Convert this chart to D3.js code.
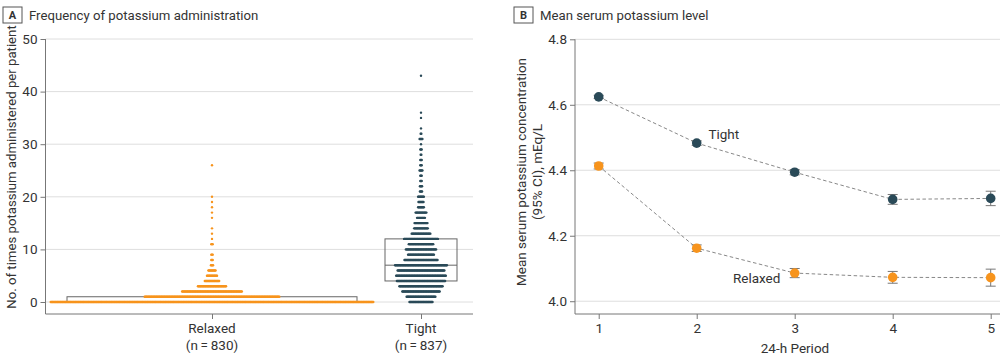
<!DOCTYPE html>
<html><head><meta charset="utf-8">
<script src="https://cdn.jsdelivr.net/npm/d3@7"></script>
<style>
body{margin:0;background:#fff;}
text{font-family:Roboto,"Noto Sans",sans-serif;fill:#333;}
</style></head>
<body><svg id="c" width="1000" height="356"></svg>
<script>
// ---------- Panel A data ----------
const groups = ["Relaxed", "Tight"];
const groupN = [830, 837];
const relaxedValues = [0,1,2,3,4,5,6,7,8,9,11,12,13,14,16,17,18,19,20,26];
const relaxedCounts = [449,188,84,40,21,15,11,4,3,3,3,1,1,1,1,1,1,1,1,1];
const tightValues = [0,1,2,3,4,5,6,7,8,9,10,11,12,13,14,15,16,17,18,19,20,21,22,23,24,25,26,27,28,29,30,31,32,33,35,36,43];
const tightCounts = [33,41,53,61,68,70,66,73,47,37,43,35,48,27,20,19,12,16,9,8,9,4,4,3,3,5,3,3,2,3,1,5,2,1,1,1,1];
const relaxedBox = [0, 0, 1];   // Q1, median, Q3
const tightBox = [4, 7, 12];
const yTicksA = [0,10,20,30,40,50];

// ---------- Panel B data ----------
const periods = [1,2,3,4,5];
const tightMean = [4.624,4.483,4.394,4.311,4.314];
const tightCI = [0.005,0.007,0.008,0.015,0.022];
const relaxedMean = [4.413,4.162,4.086,4.073,4.072];
const relaxedCI = [0.009,0.010,0.014,0.018,0.026];
const yTicksB = [4.0,4.2,4.4,4.6,4.8];

const ORANGE = "#f7941d", DARK = "#2a4a58", GRID = "#dedede", AX = "#777";
const svg = d3.select("#c");

// ---------- Panel header helper ----------
function header(x, letter, title){
  svg.append("rect").attr("x",x).attr("y",7).attr("width",19).attr("height",16)
    .attr("fill","#fff").attr("stroke","#555").attr("stroke-width",1);
  svg.append("text").attr("x",x+9.5).attr("y",15).attr("text-anchor","middle")
    .attr("dominant-baseline","central").style("font-size","11px").style("font-weight","700").text(letter);
  svg.append("text").attr("x",x+26).attr("y",15).attr("dominant-baseline","central")
    .style("font-size","13.2px").text(title);
}
header(3, "A", "Frequency of potassium administration");
header(514, "B", "Mean serum potassium level");

// ---------- Panel A ----------
const yA = d3.scaleLinear().domain([-2.28, 50]).range([314, 39]);
const xA = d3.scalePoint().domain(groups).range([212, 421]);
const leftA = 45.5, rightA = 473;

const gA = svg.append("g");
gA.selectAll("line.grid").data(yTicksA).join("line")
  .attr("x1",leftA).attr("x2",rightA).attr("y1",d=>yA(d)).attr("y2",d=>yA(d))
  .attr("stroke",GRID).attr("stroke-width",1);

const axA = gA.append("g").attr("transform",`translate(${leftA},0)`)
  .call(d3.axisLeft(yA).tickValues(yTicksA).tickSize(5).tickPadding(3));
axA.select(".domain").attr("stroke",AX).attr("d",`M-0,39V314`);
axA.selectAll(".tick line").attr("stroke",AX);
axA.selectAll(".tick text").style("font-size","13.5px").attr("fill","#333");

const axAx = gA.append("g").attr("transform",`translate(0,314)`)
  .call(d3.axisBottom(xA).tickSize(5).tickFormat(""));
axAx.select(".domain").attr("stroke",AX).attr("d",`M${leftA},0H${rightA}`);
axAx.selectAll(".tick line").attr("stroke",AX);
groups.forEach((g,i)=>{
  const t = gA.append("text").attr("x",xA(g)).attr("y",333).attr("text-anchor","middle").style("font-size","13.5px");
  t.append("tspan").attr("x",xA(g)).attr("dy",0).text(g);
  t.append("tspan").attr("x",xA(g)).attr("dy",17).text(`(n\u2009=\u2009${groupN[i]})`);
});
gA.append("text").attr("transform",`translate(16,167) rotate(-90)`)
  .attr("text-anchor","middle").style("font-size","13.2px")
  .text("No. of times potassium administered per patient");

// boxes
const boxHalf = {Relaxed:145, Tight:36};
[[groups[0],relaxedBox],[groups[1],tightBox]].forEach(([g,b])=>{
  const cx = xA(g), hw = boxHalf[g];
  gA.append("rect").attr("x",cx-hw).attr("width",2*hw)
    .attr("y",yA(b[2])).attr("height",yA(b[0])-yA(b[2]))
    .attr("fill","none").attr("stroke","#666").attr("stroke-width",1);
  gA.append("line").attr("x1",cx-hw).attr("x2",cx+hw).attr("y1",yA(b[1])).attr("y2",yA(b[1]))
    .attr("stroke","#666").attr("stroke-width",1);
});

// beeswarm rows
const spacing = 0.72;
function swarm(g, values, counts, color){
  const pts = [];
  values.forEach((v,i)=>{
    const c = counts[i];
    for(let k=0;k<c;k++) pts.push({v, off:(k-(c-1)/2)*spacing});
  });
  gA.append("g").selectAll("circle").data(pts).join("circle")
    .attr("cx",d=>xA(g)+d.off).attr("cy",d=>yA(d.v)).attr("r",1.2).attr("fill",color);
}
swarm("Relaxed", relaxedValues, relaxedCounts, ORANGE);
swarm("Tight", tightValues, tightCounts, DARK);

// ---------- Panel B ----------
const xB = d3.scaleLinear().domain([0.758, 5.095]).range([575, 1000]);
const yB = d3.scaleLinear().domain([3.961, 4.8]).range([314, 39.3]);
const gB = svg.append("g");
gB.selectAll("line.grid").data(yTicksB).join("line")
  .attr("x1",575).attr("x2",1000).attr("y1",d=>yB(d)).attr("y2",d=>yB(d))
  .attr("stroke",GRID).attr("stroke-width",1);
const axB = gB.append("g").attr("transform","translate(575,0)")
  .call(d3.axisLeft(yB).tickValues(yTicksB).tickFormat(d3.format(".1f")).tickSize(5).tickPadding(3));
axB.select(".domain").attr("stroke",AX).attr("d","M0,39.3V314");
axB.selectAll(".tick line").attr("stroke",AX);
axB.selectAll(".tick text").style("font-size","13.5px").attr("fill","#333");
const axBx = gB.append("g").attr("transform","translate(0,314)")
  .call(d3.axisBottom(xB).tickValues(periods).tickFormat(d3.format("d")).tickSize(5).tickPadding(4));
axBx.select(".domain").attr("stroke",AX).attr("d","M575,0H1000");
axBx.selectAll(".tick line").attr("stroke",AX);
axBx.selectAll(".tick text").style("font-size","13.5px").attr("fill","#333");
gB.append("text").attr("x",795).attr("y",353).attr("text-anchor","middle").style("font-size","13.5px").text("24-h Period");
const yl = gB.append("text").attr("transform",`translate(526,172) rotate(-90)`).attr("text-anchor","middle").style("font-size","13.5px");
yl.append("tspan").attr("x",0).attr("dy",0).text("Mean serum potassium concentration");
yl.append("tspan").attr("x",0).attr("dy",16).text("(95% CI), mEq/L");

function series(means, cis, color){
  const data = periods.map((p,i)=>({p, m:means[i], ci:cis[i]}));
  gB.append("path").datum(data)
    .attr("d", d3.line().x(d=>xB(d.p)).y(d=>yB(d.m)))
    .attr("fill","none").attr("stroke","#888").attr("stroke-width",1).attr("stroke-dasharray","3.5,2.5");
  const eg = gB.append("g");
  eg.selectAll("line.v").data(data).join("line")
    .attr("x1",d=>xB(d.p)).attr("x2",d=>xB(d.p)).attr("y1",d=>yB(d.m-d.ci)).attr("y2",d=>yB(d.m+d.ci))
    .attr("stroke","#777").attr("stroke-width",1);
  ["-","+"].forEach(s=>{
    eg.selectAll("line.c"+(s==="-"?"l":"u")).data(data).join("line")
      .attr("x1",d=>xB(d.p)-5).attr("x2",d=>xB(d.p)+5)
      .attr("y1",d=>yB(s==="-"?d.m-d.ci:d.m+d.ci)).attr("y2",d=>yB(s==="-"?d.m-d.ci:d.m+d.ci))
      .attr("stroke","#777").attr("stroke-width",1);
  });
  eg.selectAll("circle").data(data).join("circle")
    .attr("cx",d=>xB(d.p)).attr("cy",d=>yB(d.m)).attr("r",4.8).attr("fill",color);
}
series(tightMean, tightCI, DARK);
series(relaxedMean, relaxedCI, ORANGE);
gB.append("text").attr("x",xB(2.12)).attr("y",yB(4.51)).attr("dominant-baseline","central").style("font-size","13.5px").text("Tight");
gB.append("text").attr("x",xB(2.37)).attr("y",yB(4.07)).attr("dominant-baseline","central").style("font-size","13.5px").text("Relaxed");
</script></body></html>
